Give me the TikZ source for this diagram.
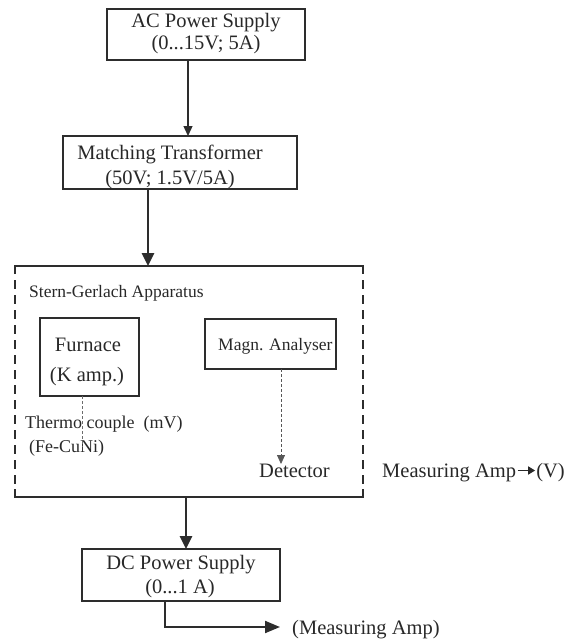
\documentclass[tikz,border=0pt]{standalone}
\usepackage{fontspec}
\setmainfont{Liberation Serif}
\usetikzlibrary{arrows.meta}
\definecolor{ink}{RGB}{45,45,45}
\definecolor{txtc}{RGB}{40,40,40}
\begin{document}
\begin{tikzpicture}[x=1pt,y=-1pt,
  box/.style={draw=ink, line width=2pt, inner sep=0pt, outer sep=0pt},
  big/.style={font=\fontsize{20.5}{23}\selectfont, text=txtc, inner sep=0pt},
  small/.style={font=\fontsize{17.5}{20}\selectfont, text=txtc, inner sep=0pt},
  mid/.style={font=\fontsize{18}{20}\selectfont, text=txtc, inner sep=0pt},
  thinarr/.style={draw=ink, line width=1.3pt, -{Triangle[length=10pt,width=9pt]}},
  thickarr/.style={draw=ink, line width=2.6pt, -{Triangle[length=13pt,width=12pt]}},
  outarr/.style={draw=ink, line width=2pt, -{Triangle[length=15pt,width=12pt]}},
  textarr/.style={draw=txtc, line width=1.6pt, -{Triangle[length=7pt,width=8pt]}},
  frame/.style={draw=ink, line width=2pt},
  dashside/.style={draw=ink, line width=1.3pt, dash pattern=on 9pt off 6pt, dash phase=9pt},
  dashln/.style={draw=ink!70, line width=0.8pt, dash pattern=on 3pt off 2pt},
  dasharr/.style={draw=ink!80, line width=0.8pt, dash pattern=on 3pt off 2pt, -{Triangle[length=9pt,width=8pt,sep=0pt]}}
]
\useasboundingbox (0,0) rectangle (565,642);

% boxes
\node[box, minimum width=198pt, minimum height=51pt] (ac) at (206,34.5) {};
\node[box, minimum width=234pt, minimum height=53pt] (mt) at (180,162.5) {};
\node[inner sep=0pt, outer sep=0pt, minimum width=348pt, minimum height=231pt] (sg) at (189,381.5) {};
\node[box, minimum width=99pt, minimum height=78pt] (furn) at (89.5,357) {};
\node[box, minimum width=131pt, minimum height=50pt] (magn) at (270.5,344) {};
\node[box, minimum width=198pt, minimum height=52pt] (dc) at (181,575) {};

% texts
\node[big, anchor=base] (actxt1) at (206,27.5) {AC Power Supply};
\node[big, anchor=base] (actxt2) at (206,50) {(0...15V; 5A)};
\node[big, anchor=base] (mttxt1) at (170,159) {Matching Transformer};
\node[big, anchor=base] (mttxt2) at (170,184) {(50V; 1.5V/5A)};
\node[small, anchor=base west] (sgtxt) at (29,297) {Stern-Gerlach Apparatus};
\node[big, anchor=base] (furntxt1) at (88,351) {Furnace};
\node[big, anchor=base] (furntxt2) at (87,381) {(K amp.)};
\node[small, anchor=base west] (magntxt) at (218,350) {Magn. Analyser};
\node[mid, anchor=base west] (tctxt) at (25,428) {Thermo\ couple\ \ (mV)};
\node[mid, anchor=base west] (fetxt) at (29,452) {(Fe-CuNi)};
\node[big, anchor=base west] (dettxt) at (259,477) {Detector};
\node[big, anchor=base west] (matxt) at (382,477) {Measuring Amp};
\node[big, anchor=base east] (vtxt) at (565,477) {(V)};
\node[big, anchor=base] (dctxt1) at (181,569) {DC Power Supply};
\node[big, anchor=base] (dctxt2) at (180,593) {(0...1 A)};
\node[big, anchor=base west] (ma2txt) at (292,634) {(Measuring Amp)};

% Stern-Gerlach frame
\draw[frame] ([yshift=-8pt]sg.north west) -- (sg.north west) -- (sg.north east) -- ([yshift=-8pt]sg.north east);
\draw[frame] ([yshift=8pt]sg.south west) -- (sg.south west) -- (sg.south east) -- ([yshift=8pt]sg.south east);
\draw[dashside] ([yshift=-8pt]sg.north west) -- ([yshift=8pt]sg.south west);
\draw[dashside] ([yshift=-8pt]sg.north east) -- ([yshift=8pt]sg.south east);

% connectors
\coordinate (c1) at (188,0);
\draw[thinarr] (ac.south -| c1) -- (mt.north -| c1);
\coordinate (c2) at (148,0);
\draw[thickarr] (mt.south -| c2) -- (sg.north -| c2);
\coordinate (c3) at (186,0);
\draw[thickarr] (sg.south -| c3) -- (dc.north -| c3);
\coordinate (c4) at (165,0);
\coordinate (mend) at (280,627);
\draw[outarr] (dc.south -| c4) |- (mend);
\coordinate (tcend) at (82,447);
\draw[dashln] (furn.south -| tcend) -- (tcend);
\coordinate (detarr) at (281,464);
\draw[dasharr] (magn.south -| detarr) -- (detarr);
\draw[textarr] ([xshift=1.5pt,yshift=6.5pt]matxt.base east) -- ([xshift=-1pt,yshift=6.5pt]vtxt.base west);
\end{tikzpicture}
\end{document}
